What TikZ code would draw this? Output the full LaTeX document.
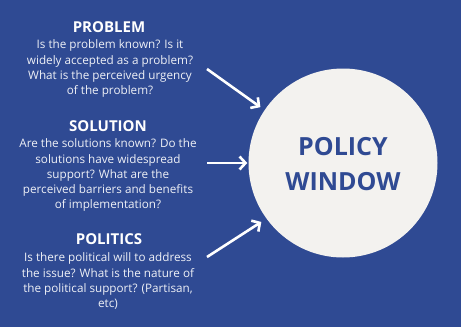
\documentclass[tikz,border=0pt]{standalone}
\usepackage{fontspec}
\setmainfont{Open Sans}
\usetikzlibrary{arrows.meta}
\definecolor{bgblue}{HTML}{2F4A93}
\definecolor{circfill}{HTML}{F3F2EF}
\begin{document}
\begin{tikzpicture}[x=1pt,y=-1pt,
  heading/.style={text=white,font=\fontsize{15}{15}\selectfont\bfseries,anchor=center},
  bodytext/.style={text=white!92!bgblue,font=\fontsize{11.7}{15.2}\selectfont,align=center,anchor=north},
  arrowline/.style={draw=white,line width=2.6pt,-{Straight Barb[length=6pt,width=13pt,line width=2.6pt]}},
  bigcircle/.style={circle,fill=circfill,minimum size=189pt,inner sep=0pt},
  circtext/.style={text=bgblue,font=\fontsize{25}{35}\selectfont\bfseries,align=center}]
\fill[bgblue] (0,0) rectangle (461,327);
\useasboundingbox (0,0) rectangle (461,327);
% circle
\node[bigcircle] (circ) at (343,163) {};
\node[circtext] (pw) at (343,164.5) {POLICY\\WINDOW};
% headings
\node[heading] (h1) at (109,27) {PROBLEM};
\node[bodytext] (b1) at (110,36.5) {Is the problem known? Is it\\widely accepted as a problem?\\What is the perceived urgency\\of the problem?};
\node[heading] (h2) at (108,126) {SOLUTION};
\node[bodytext] (b2) at (108,135.5) {Are the solutions known? Do the\\solutions have widespread\\support? What are the\\perceived barriers and benefits\\of implementation?};
\node[heading] (h3) at (109,239) {POLITICS};
\node[bodytext] (b3) at (108,249.5) {Is there political will to address\\the issue? What is the nature of\\the political support? (Partisan,\\etc)};
% arrows
\coordinate (s1) at (207,69);
\coordinate (s2) at (207,163);
\coordinate (s3) at (207,257);
\draw[arrowline,shorten >=5pt] (s1) -- (circ.146.5);
\draw[arrowline,shorten >=1pt] (s2) -- (circ.180);
\draw[arrowline,shorten >=6pt] (s3) -- (circ.216);
\end{tikzpicture}
\end{document}
